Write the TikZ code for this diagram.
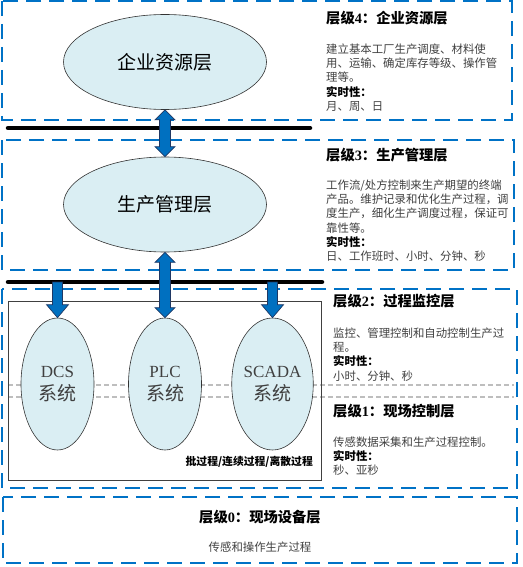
\documentclass[tikz,border=0pt]{standalone}
\usepackage{fontspec}
\setmainfont{Liberation Serif}
\newfontfamily\cjk{Noto Sans CJK SC}
\usetikzlibrary{shapes.geometric,calc}
\definecolor{boxblue}{RGB}{0,114,198}
\definecolor{arrowfill}{RGB}{0,112,192}
\definecolor{arrowline}{RGB}{31,56,100}
\definecolor{ellfill}{RGB}{218,238,243}
\definecolor{bodygray}{RGB}{64,64,64}
\definecolor{dashgray}{RGB}{190,190,190}
\tikzset{
  layerbox/.style={draw=boxblue, line width=2pt, dash pattern=on 15pt off 8pt},
  graydash/.style={draw=dashgray, line width=1.5pt, dash pattern=on 5pt off 3pt},
  bus/.style={draw=black, line width=4.5pt, line cap=round},
  blockarrow/.style={fill=arrowfill, draw=arrowline, line width=0.7pt, line join=miter},
  bigell/.style={ellipse, draw=black!80, line width=0.6pt, fill=ellfill, minimum width=203pt, minimum height=95pt, inner sep=0pt, font=\cjk\fontsize{19}{22}\selectfont},
  sysell/.style={ellipse, draw=black!80, line width=0.6pt, fill=ellfill, minimum width=73pt, minimum height=132pt, inner sep=0pt, align=center, text=bodygray, font=\fontsize{17}{23}\selectfont},
  title/.style={anchor=west, inner sep=0pt, font=\cjk\bfseries\fontsize{14.3}{16}\selectfont},
  body/.style={anchor=north west, inner sep=0pt, align=left, text=bodygray, font=\cjk\fontsize{11.4}{14.3}\selectfont},
}
\newcommand\rt{\textbf{\textcolor{black}{实时性：}}}
\newcommand\sysname{{\cjk\fontsize{19}{23}\selectfont 系统}}
\newcommand\dnarrow[2]{\filldraw[blockarrow] let \p1=(#1),\p2=(#2) in
  (\x2-5pt,\y1) -- (\x2+5pt,\y1) -- (\x2+5pt,\y2+13pt) -- (\x2+11pt,\y2+13pt) -- (\x2,\y2)
  -- (\x2-11pt,\y2+13pt) -- (\x2-5pt,\y2+13pt) -- cycle;}
\newcommand\dblarrow[2]{\filldraw[blockarrow] let \p1=(#1),\p2=(#2) in
  (\x1,\y1) -- (\x1+10pt,\y1-10pt) -- (\x1+5.5pt,\y1-10pt) -- (\x1+5.5pt,\y2+10pt) -- (\x1+10pt,\y2+10pt)
  -- (\x1,\y2) -- (\x1-10pt,\y2+10pt) -- (\x1-5.5pt,\y2+10pt) -- (\x1-5.5pt,\y1-10pt) -- (\x1-10pt,\y1-10pt) -- cycle;}
\begin{document}
\begin{tikzpicture}[x=1pt,y=-1pt]
\useasboundingbox (0,0) rectangle (522,567);
% layer boxes
\draw[layerbox] (2,1) rectangle (512,120);
\draw[layerbox] (2,140) rectangle (514,270);
\draw[layerbox] (2,289) rectangle (517,488);
\draw[layerbox] (3,497) rectangle (517,563);
% gray separators
\draw[graydash] (8,385) -- (514,385);
\draw[graydash] (8,397) -- (514,397);
% inner rectangle
\draw[draw=black!75, line width=1pt] (8,301) rectangle (321,480);
% buses
\coordinate (bus1l) at (8,128); \coordinate (bus1r) at (310,128);
\coordinate (bus2l) at (8,282); \coordinate (bus2r) at (322,282);
\draw[bus] (bus1l) -- (bus1r);
\draw[bus] (bus2l) -- (bus2r);
% ellipses
\node[bigell] (e4) at (165,62) {企业资源层};
\node[bigell] (e3) at (165,204.5) {生产管理层};
\node[sysell] (dcs) at (57.5,384) {DCS\\\sysname};
\node[sysell] (plc) at (165,384) {PLC\\\sysname};
\node[sysell] (scada) at (272.5,384) {SCADA\\\sysname};
% arrows
\dblarrow{e4.south}{e3.north}
\dblarrow{e3.south}{plc.north}
\dnarrow{bus2l}{dcs.north}
\dnarrow{bus2l}{scada.north}
% process label
\node[anchor=east, inner sep=0pt, font=\cjk\bfseries\fontsize{10.8}{12}\selectfont] (proc) at (313,462) {批过程/连续过程/离散过程};
% level 4
\node[title] (t4) at (326,18) {层级{\rmfamily\bfseries 4}：企业资源层};
\node[body] (b4) at (326,43.5) {建立基本工厂生产调度、材料使\\用、运输、确定库存等级、操作管\\理等。\\\rt\\月、周、日};
% level 3
\node[title] (t3) at (326,155) {层级{\rmfamily\bfseries 3}：生产管理层};
\node[body] (b3) at (326,179.5) {工作流/处方控制来生产期望的终端\\产品。维护记录和优化生产过程，调\\度生产，细化生产调度过程，保证可\\靠性等。\\\rt\\日、工作班时、小时、分钟、秒};
% level 2
\node[title] (t2) at (333,301) {层级{\rmfamily\bfseries 2}：过程监控层};
\node[body] (b2) at (333,327.5) {监控、管理控制和自动控制生产过\\程。\\\rt\\小时、分钟、秒};
% level 1
\node[title] (t1) at (333,411) {层级{\rmfamily\bfseries 1}：现场控制层};
\node[body] (b1) at (333,436.5) {传感数据采集和生产过程控制。\\\rt\\秒、亚秒};
% level 0
\node[title, anchor=center] (t0) at (260,517) {层级{\rmfamily\bfseries 0}：现场设备层};
\node[body, anchor=center] (b0) at (260,547) {传感和操作生产过程};
\end{tikzpicture}
\end{document}
